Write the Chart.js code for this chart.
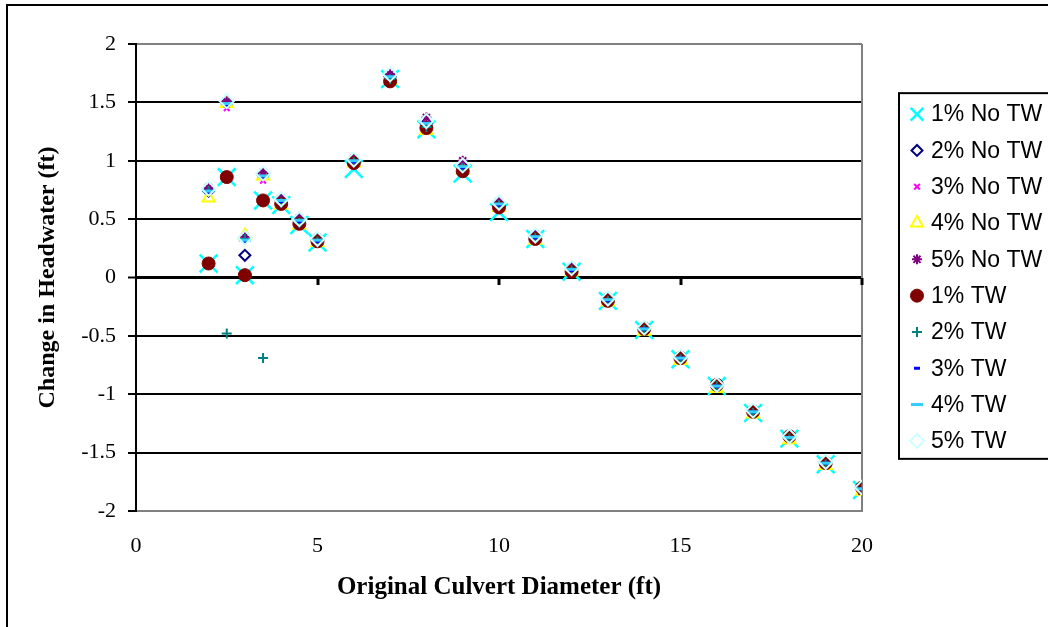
<!DOCTYPE html>
<html>
<head>
<meta charset="utf-8">
<script src="https://cdn.jsdelivr.net/npm/chart.js@4/dist/chart.umd.min.js"></script>
<style>
  html, body { margin: 0; padding: 0; background: #fff; overflow: hidden; }
  #wrap { position: relative; width: 1048px; height: 627px; }
  #frame { position: absolute; left: 6px; top: 4px; width: 1100px; height: 700px; border: 2px solid #000; pointer-events: none; }
</style>
</head>
<body>
<div id="wrap">
  <canvas id="chart" width="1048" height="627"></canvas>
  <div id="frame"></div>
</div>
<script>
// original culvert diameter (ft)
const diameters = [2, 2.5, 3, 3.5, 4, 4.5, 5, 6, 7, 8, 9, 10, 11, 12, 13, 14, 15, 16, 17, 18, 19, 20];

// change in headwater (ft), one list per series
const noTw1 = [0.12, 0.86, 0.02, 0.66, 0.62, 0.45, 0.30, 0.93, 1.70, 1.27, 0.89, 0.56, 0.33, 0.05, -0.20, -0.45, -0.70, -0.93, -1.16, -1.38, -1.60, -1.82];
const noTw2 = [0.74, 1.50, 0.19, 0.88, 0.66, 0.49, 0.32, 1.00, 1.72, 1.32, 0.95, 0.63, 0.35, 0.07, -0.19, -0.44, -0.69, -0.93, -1.15, -1.37, -1.59, -1.81];
const noTw3 = [0.75, 1.45, 0.33, 0.83, 0.66, 0.48, 0.32, 1.00, 1.72, 1.32, 0.96, 0.63, 0.35, 0.07, -0.19, -0.44, -0.69, -0.93, -1.15, -1.37, -1.59, -1.81];
const noTw4 = [0.68, 1.49, 0.36, 0.87, 0.62, 0.45, 0.30, 0.98, 1.69, 1.26, 0.92, 0.60, 0.32, 0.05, -0.21, -0.46, -0.71, -0.95, -1.17, -1.39, -1.61, -1.83];
const noTw5 = [0.77, 1.51, 0.35, 0.90, 0.68, 0.51, 0.34, 1.02, 1.74, 1.37, 1.00, 0.65, 0.37, 0.09, -0.17, -0.42, -0.67, -0.91, -1.13, -1.36, -1.58, -1.83];
const tw1 = [0.12, 0.86, 0.02, 0.66, 0.63, 0.46, 0.31, 0.98, 1.68, 1.28, 0.91, 0.60, 0.33, 0.05, -0.20, -0.44, -0.69, -0.92, -1.15, -1.36, -1.59, -1.80];
const tw2 = [0.74, -0.48, 0.33, -0.69, 0.64, 0.47, 0.31, 0.99, 1.70, 1.29, 0.94, 0.62, 0.34, 0.06, -0.20, -0.45, -0.70, -0.93, -1.16, -1.38, -1.60, -1.81];
const tw3 = [0.73, 1.47, 0.31, 0.86, 0.65, 0.48, 0.31, 0.99, 1.72, 1.32, 0.94, 0.62, 0.34, 0.06, -0.20, -0.44, -0.69, -0.93, -1.15, -1.37, -1.59, -1.81];
const tw4 = [0.74, 1.49, 0.32, 0.87, 0.66, 0.49, 0.32, 1.00, 1.72, 1.32, 0.95, 0.63, 0.35, 0.07, -0.19, -0.44, -0.69, -0.93, -1.15, -1.37, -1.59, -1.81];
const tw5 = [0.76, 1.51, 0.34, 0.89, 0.67, 0.50, 0.33, 1.01, 1.74, 1.34, 0.96, 0.64, 0.36, 0.08, -0.18, -0.43, -0.68, -0.92, -1.14, -1.36, -1.58, -1.80];

const seriesNames = ["1% No TW", "2% No TW", "3% No TW", "4% No TW", "5% No TW", "1% TW", "2% TW", "3% TW", "4% TW", "5% TW"];
const seriesValues = [noTw1, noTw2, noTw3, noTw4, noTw5, tw1, tw2, tw3, tw4, tw5];

const xTicks = [0, 5, 10, 15, 20];
const yTicks = [-2, -1.5, -1, -0.5, 0, 0.5, 1, 1.5, 2];

// marker look for each series (excel style)
const markers = [
  { style: "crossRot", radius: 12.5, color: "#00ffff", fill: "#00ffff", width: 2.5 },
  { style: "rectRot", radius: 5.5, color: "#000080", fill: "rgba(255,255,255,0)", width: 2 },
  { style: "crossRot", radius: 4, color: "#ff00ff", fill: "#ff00ff", width: 2 },
  { style: "triangle", radius: 7, color: "#ffff00", fill: "rgba(255,255,255,0)", width: 2 },
  { style: "star", radius: 5, color: "#800080", fill: "#800080", width: 2 },
  { style: "circle", radius: 6.5, color: "#800000", fill: "#800000", width: 1 },
  { style: "cross", radius: 5, color: "#008080", fill: "#008080", width: 2 },
  { style: "line", radius: 3, color: "#0000ff", fill: "#0000ff", width: 3 },
  { style: "line", radius: 6, color: "#33ccff", fill: "#33ccff", width: 3 },
  { style: "rectRot", radius: 7, color: "#ccffff", fill: "rgba(255,255,255,0)", width: 2 }
];

const datasets = seriesNames.map((name, i) => ({
  label: name,
  data: diameters.map((d, j) => ({ x: d, y: seriesValues[i][j] })),
  pointStyle: markers[i].style,
  pointRadius: markers[i].radius,
  pointBorderColor: markers[i].color,
  pointBackgroundColor: markers[i].fill,
  pointBorderWidth: markers[i].width,
  showLine: false,
  order: seriesNames.length - i
}));

// right edge of the plot and the x axis ticks sitting on y = 0
const plotFrame = {
  id: "plotFrame",
  beforeDatasetsDraw(chart) {
    const { ctx, chartArea, scales } = chart;
    ctx.save();
    ctx.strokeStyle = "#808080";
    ctx.lineWidth = 2;
    ctx.beginPath();
    ctx.moveTo(chartArea.right, chartArea.top);
    ctx.lineTo(chartArea.right, chartArea.bottom);
    ctx.stroke();
    const y0 = Math.round(scales.y.getPixelForValue(0));
    ctx.strokeStyle = "#000";
    ctx.lineWidth = 3;
    xTicks.forEach(t => {
      if (t === 0) return;
      const px = Math.round(scales.x.getPixelForValue(t));
      ctx.beginPath();
      ctx.moveTo(px, y0);
      ctx.lineTo(px, y0 + 7);
      ctx.stroke();
    });
    ctx.restore();
  }
};

// boxed legend on the right like the excel one
const boxLegend = {
  id: "boxLegend",
  afterDraw(chart) {
    const { ctx, chartArea } = chart;
    const step = 36.3;
    const n = seriesNames.length;
    const mid = (chartArea.top + chartArea.bottom) / 2;
    const first = mid - step * (n - 1) / 2;
    const left = chartArea.right + 37;
    ctx.save();
    ctx.strokeStyle = "#000";
    ctx.lineWidth = 2;
    ctx.strokeRect(left, first - 21, 200, step * (n - 1) + 39);
    ctx.font = "23px 'Liberation Sans', Arial, sans-serif";
    ctx.textBaseline = "middle";
    ctx.fillStyle = "#000";
    seriesNames.forEach((name, i) => {
      const y = first + i * step;
      const m = markers[i];
      ctx.strokeStyle = m.color;
      ctx.fillStyle = m.fill;
      ctx.lineWidth = m.width;
      Chart.helpers.drawPoint(ctx, { pointStyle: m.style, radius: Math.min(m.radius, 9), rotation: 0, borderWidth: m.width }, left + 18, y);
      ctx.fillStyle = "#000";
      ctx.fillText(name, left + 32, y + 1);
    });
    ctx.restore();
  }
};

new Chart(document.getElementById("chart"), {
  type: "scatter",
  data: { datasets },
  options: {
    responsive: false,
    devicePixelRatio: 1,
    animation: false,
    layout: { padding: { left: 0, top: 44, right: 186, bottom: 0 } },
    plugins: {
      legend: { display: false },
      tooltip: { enabled: false }
    },
    scales: {
      x: {
        type: "linear",
        min: 0,
        max: 20,
        afterBuildTicks: s => { s.ticks = xTicks.map(v => ({ value: v })); },
        afterFit: s => { s.height = 116; },
        ticks: {
          color: "#000",
          padding: 22,
          callback: v => String(v),
          font: { family: "'Liberation Serif', 'Times New Roman', serif", size: 22 }
        },
        grid: { drawOnChartArea: false, drawTicks: false },
        border: { display: true, color: "#808080", width: 2 },
        title: {
          display: true,
          text: "Original Culvert Diameter (ft)",
          color: "#000",
          padding: { top: 0, bottom: 24 },
          font: { family: "'Liberation Serif', 'Times New Roman', serif", size: 25, weight: "bold" }
        }
      },
      y: {
        min: -2,
        max: 2,
        afterBuildTicks: s => { s.ticks = yTicks.map(v => ({ value: v })); },
        afterFit: s => { s.width = 136; },
        ticks: {
          color: "#000",
          padding: 12,
          callback: v => String(v),
          font: { family: "'Liberation Serif', 'Times New Roman', serif", size: 22 }
        },
        grid: {
          color: c => (c.tick && Math.abs(c.tick.value) === 2 ? "#808080" : "#000"),
          lineWidth: c => (c.tick && c.tick.value === 0 ? 3 : 2),
          tickColor: "#000",
          tickWidth: 2,
          tickLength: 8
        },
        border: { display: true, color: "#000", width: 2 },
        title: {
          display: true,
          text: "Change in Headwater (ft)",
          color: "#000",
          padding: { top: 33, bottom: 0 },
          font: { family: "'Liberation Serif', 'Times New Roman', serif", size: 24, weight: "bold" }
        }
      }
    }
  },
  plugins: [plotFrame, boxLegend]
});
</script>
</body>
</html>
